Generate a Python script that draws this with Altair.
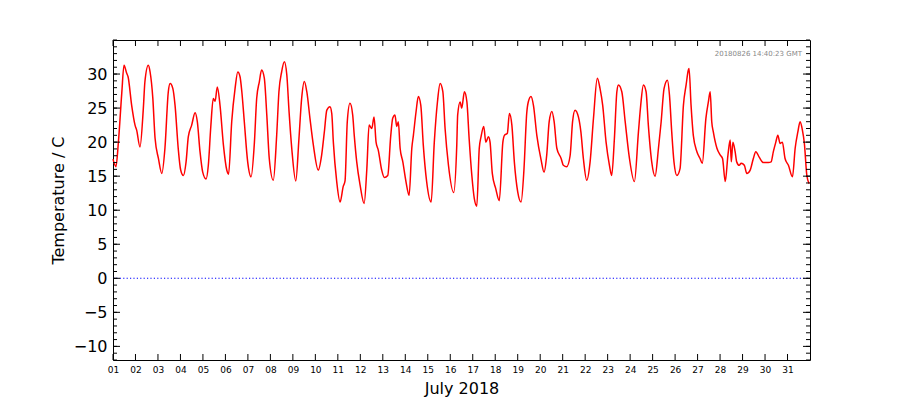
import altair as alt
import pandas as pd

# Day of month (fractional, 1.0 = 1 July 00:00 UTC) and temperature (°C)
day = [
    1.00, 1.13, 1.24, 1.39, 1.49, 1.61, 1.67, 1.83, 1.98, 2.05, 2.20, 2.35, 2.42, 2.57, 2.65,
    2.77, 2.87, 3.02, 3.17, 3.31, 3.46, 3.54, 3.66, 3.76, 3.90, 4.01, 4.13, 4.25, 4.35, 4.50,
    4.65, 4.75, 4.87, 4.99, 5.14, 5.24, 5.35, 5.46, 5.54, 5.64, 5.76, 5.91, 6.06, 6.14, 6.28,
    6.43, 6.55, 6.65, 6.73, 6.84, 6.99, 7.14, 7.29, 7.39, 7.51, 7.61, 7.73, 7.84, 7.95, 8.13,
    8.28, 8.38, 8.50, 8.62, 8.73, 8.83, 8.95, 9.13, 9.27, 9.39, 9.51, 9.62, 9.76, 9.91, 10.13,
    10.28, 10.40, 10.51, 10.65, 10.73, 10.80, 10.95, 11.10, 11.24, 11.32, 11.42, 11.54, 11.66, 11.73, 11.84,
    11.99, 12.17, 12.29, 12.39, 12.51, 12.61, 12.70, 12.80, 12.95, 13.07, 13.22, 13.35, 13.44, 13.54, 13.62,
    13.69, 13.77, 13.89, 14.03, 14.17, 14.29, 14.36, 14.48, 14.58, 14.69, 14.80, 14.95, 15.15, 15.29, 15.43,
    15.55, 15.67, 15.77, 15.92, 16.15, 16.29, 16.33, 16.44, 16.51, 16.63, 16.74, 16.84, 16.96, 17.07, 17.18,
    17.29, 17.37, 17.49, 17.58, 17.70, 17.77, 17.87, 18.02, 18.18, 18.34, 18.41, 18.54, 18.63, 18.74, 18.85,
    19.00, 19.15, 19.28, 19.40, 19.47, 19.59, 19.70, 19.85, 20.04, 20.17, 20.29, 20.40, 20.52, 20.62, 20.74,
    20.93, 21.03, 21.18, 21.33, 21.44, 21.55, 21.70, 21.81, 21.92, 22.07, 22.22, 22.37, 22.54, 22.66, 22.78,
    22.93, 23.08, 23.18, 23.30, 23.41, 23.48, 23.63, 23.78, 23.97, 24.19, 24.37, 24.47, 24.59, 24.71, 24.81,
    24.96, 25.11, 25.26, 25.38, 25.51, 25.66, 25.75, 25.85, 25.95, 26.08, 26.22, 26.37, 26.49, 26.59, 26.62,
    26.71, 26.81, 26.97, 27.11, 27.21, 27.37, 27.48, 27.56, 27.63, 27.70, 27.86, 28.01, 28.11, 28.23, 28.35,
    28.45, 28.50, 28.57, 28.67, 28.74, 28.85, 28.94, 29.08, 29.19, 29.34, 29.48, 29.59, 29.74, 29.93, 30.15,
    30.27, 30.37, 30.48, 30.57, 30.67, 30.77, 30.89, 31.04, 31.22, 31.34, 31.46, 31.56, 31.66, 31.75, 31.86,
    31.96,
]
temp = [
    17.5, 16.4, 20.0, 27.2, 31.3, 30.1, 29.6, 25.4, 22.5, 21.8, 19.3, 25.0, 28.9, 31.3, 30.3,
    26.5, 20.6, 17.6, 15.4, 19.1, 27.4, 28.6, 27.9, 25.4, 19.1, 15.9, 15.1, 17.1, 20.8, 22.5,
    24.3, 23.0, 18.6, 15.6, 14.6, 16.6, 22.3, 26.4, 26.0, 28.1, 25.4, 19.6, 15.9, 15.3, 23.0,
    27.9, 30.3, 29.6, 27.4, 23.0, 17.1, 14.9, 20.0, 26.4, 28.9, 30.6, 29.4, 24.0, 17.6, 14.4,
    21.0, 27.4, 30.3, 31.8, 29.9, 24.5, 19.1, 14.3, 20.5, 26.4, 28.9, 27.4, 23.5, 19.6, 15.9,
    18.1, 21.5, 24.7, 25.2, 24.2, 20.0, 14.2, 11.2, 13.5, 14.3, 23.0, 25.7, 24.0, 21.0, 17.1,
    13.7, 11.0, 16.1, 22.5, 22.0, 23.7, 20.0, 18.8, 15.9, 14.8, 15.1, 20.8, 23.5, 24.0, 22.3,
    23.0, 19.1, 17.1, 14.2, 12.2, 19.1, 21.0, 24.5, 26.7, 25.4, 19.6, 14.2, 11.2, 20.0, 25.9,
    28.6, 27.4, 22.0, 16.6, 12.6, 19.6, 24.0, 25.9, 25.0, 27.4, 25.9, 20.5, 15.1, 11.7, 10.6,
    19.1, 20.8, 22.3, 20.0, 20.8, 20.0, 15.4, 13.2, 11.4, 20.0, 21.0, 21.3, 24.2, 22.5, 17.1,
    12.7, 11.2, 16.1, 24.2, 25.9, 26.7, 25.4, 21.0, 17.4, 15.6, 18.1, 23.0, 24.5, 23.0, 19.1,
    17.6, 16.6, 16.4, 18.0, 23.0, 24.7, 23.7, 21.5, 17.6, 14.4, 17.1, 23.5, 29.4, 27.9, 25.4,
    20.0, 16.6, 15.1, 20.5, 27.4, 28.4, 27.4, 23.0, 17.6, 14.2, 21.5, 25.4, 28.4, 27.4, 22.5,
    17.1, 15.0, 19.1, 23.0, 27.9, 29.1, 26.9, 21.5, 17.1, 15.1, 16.1, 25.4, 28.4, 30.6, 30.8,
    25.4, 21.0, 18.6, 17.6, 16.9, 23.5, 25.9, 27.4, 23.0, 21.5, 19.1, 18.1, 17.6, 14.2, 18.1,
    20.3, 17.1, 20.0, 18.6, 17.1, 16.6, 16.9, 16.6, 15.4, 15.9, 17.6, 18.6, 17.8, 17.0, 17.0,
    17.1, 18.6, 20.0, 21.0, 19.8, 20.0, 17.6, 16.6, 14.9, 19.1, 21.5, 23.0, 21.8, 19.8, 15.1,
    13.9,
]

y_major = [-10, -5, 0, 5, 10, 15, 20, 25, 30]
y_minor = list(range(-12, 36))
day_ticks = list(range(1, 32))
stamp = "20180826 14:40:23 GMT"

T0 = 1530403200000  # 2018-07-01T00:00:00Z in ms
MS_DAY = 86400000

W, H = 697, 320

df = pd.DataFrame({"t": [T0 + (d - 1) * MS_DAY for d in day], "temp": temp})
tick_times = [T0 + (d - 1) * MS_DAY for d in day_ticks]
df_xt = pd.DataFrame({"t": tick_times})
df_ymaj = pd.DataFrame({"temp": y_major})
df_ymin = pd.DataFrame({"temp": y_minor})
df_zero = pd.DataFrame({"temp": [0]})

xscale = alt.Scale(type="utc", domain=[T0, T0 + 31 * MS_DAY], nice=False)
yscale = alt.Scale(domain=[-12, 35], nice=False, zero=False)

x_axis = alt.Axis(
    values=tick_times, labelExpr="utcFormat(datum.value, '%d')", title="July 2018",
    grid=False, domain=False, ticks=False, labelFontSize=9, labelPadding=5,
    labelFlush=False, labelOverlap=False, labelColor="black",
    titleFontSize=16, titleFontWeight="normal", titleColor="black",
    titleY=33, titleBaseline="alphabetic",
)
y_axis = alt.Axis(
    values=y_major, title="Temperature / C", grid=False, domain=False, ticks=False,
    labelFontSize=16, labelPadding=6, labelColor="black",
    titleFontSize=16, titleFontWeight="normal", titleColor="black",
    titleX=-50, titleY=H / 2, titleAngle=-90, titleAlign="center",
    titleBaseline="alphabetic",
)

X = alt.X("t:T", scale=xscale, axis=x_axis)
Y = alt.Y("temp:Q", scale=yscale, axis=y_axis)

line = alt.Chart(df).mark_line(
    color="#ff0000", strokeWidth=1.5, interpolate="monotone"
).encode(x=X, y=Y)

zero = alt.Chart(df_zero).mark_rule(
    color="#0000ff", strokeWidth=1.1, strokeDash=[1.2, 2.2]
).encode(y=Y, x=alt.value(0), x2=alt.value(W))

ymaj_l = alt.Chart(df_ymaj).mark_rule(color="black", strokeWidth=1).encode(
    y=Y, x=alt.value(0), x2=alt.value(7))
ymaj_r = alt.Chart(df_ymaj).mark_rule(color="black", strokeWidth=1).encode(
    y=Y, x=alt.value(W - 7), x2=alt.value(W))
ymin_l = alt.Chart(df_ymin).mark_rule(color="black", strokeWidth=1).encode(
    y=Y, x=alt.value(0), x2=alt.value(4))
ymin_r = alt.Chart(df_ymin).mark_rule(color="black", strokeWidth=1).encode(
    y=Y, x=alt.value(W - 4), x2=alt.value(W))
xt_b = alt.Chart(df_xt).mark_rule(color="black", strokeWidth=1).encode(
    x=X, y=alt.value(H - 6), y2=alt.value(H))
xt_t = alt.Chart(df_xt).mark_rule(color="black", strokeWidth=1).encode(
    x=X, y=alt.value(0), y2=alt.value(6))

label = alt.Chart(pd.DataFrame({"s": [stamp]})).mark_text(
    align="right", baseline="middle", fontSize=7, color="#888888"
).encode(x=alt.value(W - 8), y=alt.value(14), text="s:N")

chart = alt.layer(
    line, zero, ymaj_l, ymaj_r, ymin_l, ymin_r, xt_b, xt_t, label
).properties(
    width=W, height=H,
    autosize=alt.AutoSizeParams(type="none"),
    padding={"left": 113, "top": 40, "right": 90, "bottom": 40},
    background="white",
).configure(font="DejaVu Sans").configure_view(
    stroke="black", strokeWidth=1
)

chart.save("out.html", embed_options={"renderer": "svg", "actions": False})
